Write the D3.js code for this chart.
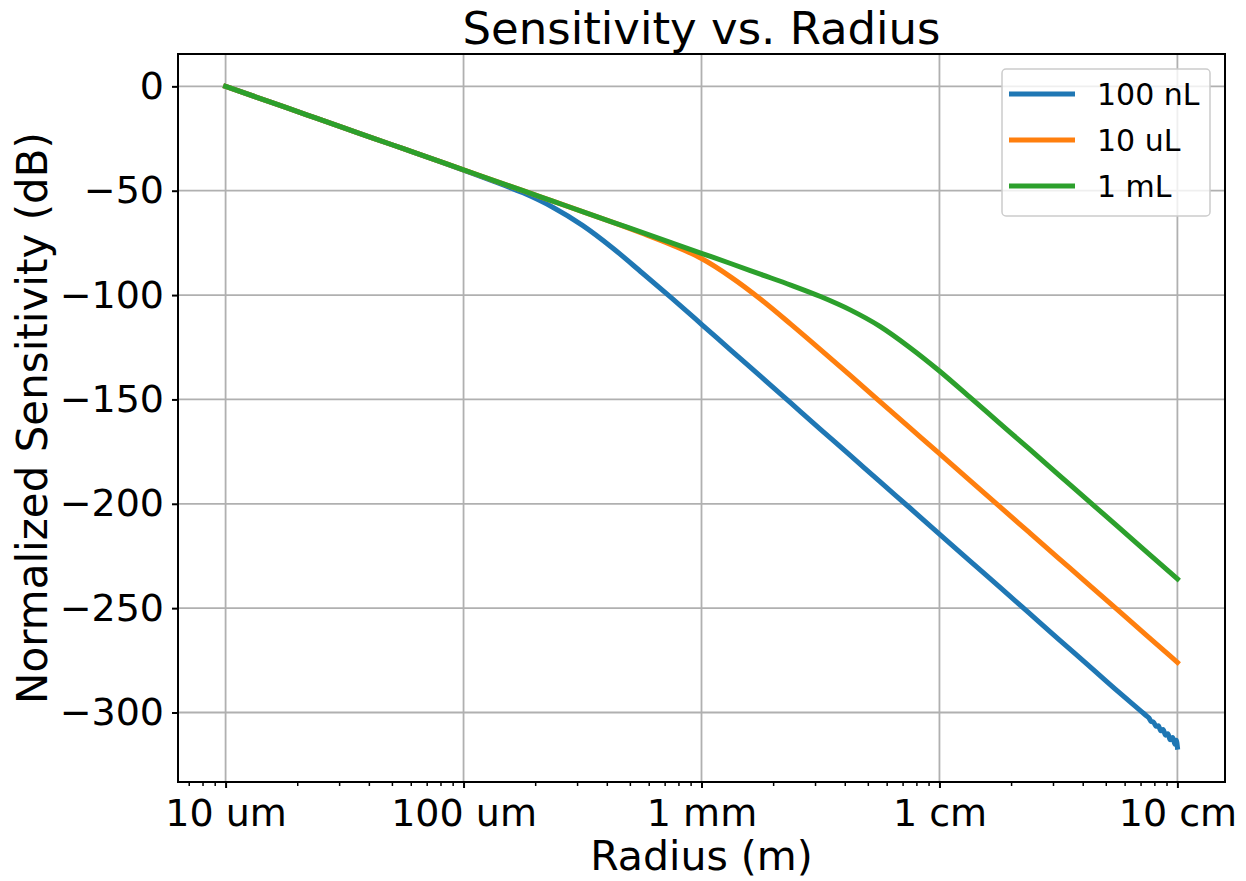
<!DOCTYPE html>
<html>
<head>
<meta charset="utf-8">
<script src="https://cdn.jsdelivr.net/npm/d3@7"></script>
<style>
  html, body { margin: 0; padding: 0; background: #fff; }
  svg { display: block; font-family: "DejaVu Sans", sans-serif; }
</style>
</head>
<body>
<svg id="chart" width="1246" height="881"></svg>
<script>
// ---- data ----
const radii = [
  1e-5, 1.334e-5, 1.778e-5, 2.371e-5, 3.162e-5, 4.217e-5, 5.623e-5, 7.499e-5,
  1e-4, 1.334e-4, 1.778e-4, 2.371e-4, 3.162e-4, 4.217e-4, 5.623e-4, 7.499e-4,
  1e-3, 1.334e-3, 1.778e-3, 2.371e-3, 3.162e-3, 4.217e-3, 5.623e-3, 7.499e-3,
  1e-2, 1.334e-2, 1.778e-2, 2.371e-2, 3.162e-2, 4.217e-2, 5.623e-2, 7.499e-2,
  1e-1
];
const blue100nL = [
  0, -5, -10, -15, -20, -25, -30, -35.0,
  -40.1, -45.4, -51.0, -57.9, -66.6, -77.3, -89.3, -101.5,
  -114.0, -126.6, -139.1, -151.7, -164.3, -176.8, -189.4, -201.9,
  -214.5, -227.1, -239.6, -252.2, -264.8, -277.3, -289.9, -302.4,
  -315.0
];
// noisy end of the 100 nL curve
const blueTailRadii = [0.0724, 0.0741, 0.0759, 0.0776, 0.0794, 0.0813, 0.0832, 0.0851,
  0.0871, 0.0891, 0.0912, 0.0933, 0.0955, 0.0977, 0.0989, 0.1];
const blueTailValues = [-300.6, -301.6, -302.6, -304.3, -304.6, -306.6, -306.4, -308.8,
  -308.2, -310.9, -310.2, -313.1, -312.0, -315.2, -313.3, -316.6];
const orange10uL = [
  0, -5, -10, -15, -20, -25, -30, -35,
  -40, -45, -50, -55, -60.0, -65.1, -70.4, -76.0,
  -82.5, -91.5, -102.1, -113.9, -126.1, -138.5, -151.0, -163.5,
  -176.0, -188.5, -201.0, -213.5, -226.0, -238.5, -251.0, -263.5,
  -276.0
];
const green1mL = [
  0, -5, -10, -15, -20, -25, -30, -35,
  -40, -45, -50, -55, -60, -65, -70, -75,
  -80.0, -85.0, -90.1, -95.2, -100.7, -107.1, -115.0, -125.1,
  -136.4, -148.7, -161.1, -173.5, -186.0, -198.5, -211.0, -223.5,
  -236.0
];
const seriesNames = ["100 nL", "10 uL", "1 mL"];
const seriesColors = ["#1f77b4", "#ff7f0e", "#2ca02c"];
const xTickValues = [1e-5, 1e-4, 1e-3, 1e-2, 1e-1];
const xTickLabels = ["10 um", "100 um", "1 mm", "1 cm", "10 cm"];
const yTickValues = [0, -50, -100, -150, -200, -250, -300];
const titleText = "Sensitivity vs. Radius";
const xLabelText = "Radius (m)";
const yLabelText = "Normalized Sensitivity (dB)";

// ---- layout ----
const L = 178, R = 1225, T = 54, B = 782;
const svg = d3.select("#chart");

const x = d3.scaleLog().domain([Math.pow(10, -5.2), Math.pow(10, -0.8)]).range([L, R]);
const y = d3.scaleLinear().domain([-333.3, 15.5]).range([B, T]);

// grid
const grid = svg.append("g");
grid.selectAll("line.gx").data(xTickValues).join("line")
  .attr("x1", d => x(d)).attr("x2", d => x(d)).attr("y1", T).attr("y2", B)
  .attr("stroke", "#b0b0b0").attr("stroke-width", 1.8);
grid.selectAll("line.gy").data(yTickValues).join("line")
  .attr("x1", L).attr("x2", R).attr("y1", d => y(d)).attr("y2", d => y(d))
  .attr("stroke", "#b0b0b0").attr("stroke-width", 1.8);

// lines
const line = d3.line().x(d => x(d.r)).y(d => y(d.v)).curve(d3.curveMonotoneX);
const bluePts = radii.map((r, i) => ({ r, v: blue100nL[i] })).filter(d => d.r < blueTailRadii[0])
  .concat(blueTailRadii.map((r, i) => ({ r, v: blueTailValues[i] })));
const orangePts = radii.map((r, i) => ({ r, v: orange10uL[i] }));
const greenPts = radii.map((r, i) => ({ r, v: green1mL[i] }));
const allSeries = [bluePts, orangePts, greenPts];

const linesG = svg.append("g");
allSeries.forEach((pts, i) => {
  linesG.append("path").datum(pts)
    .attr("d", line)
    .attr("fill", "none")
    .attr("stroke", seriesColors[i])
    .attr("stroke-width", 5)
    .attr("stroke-linejoin", "round")
    .attr("stroke-linecap", "square");
});

// axes
const xAxis = d3.axisBottom(x).tickValues(xTickValues)
  .tickFormat((d, i) => xTickLabels[i]).tickSize(6).tickSizeOuter(0).tickPadding(11);
const gx = svg.append("g").attr("transform", `translate(0,${B})`).call(xAxis);
gx.select(".domain").remove();
gx.selectAll(".tick line").attr("stroke", "#000").attr("stroke-width", 2);
gx.selectAll(".tick text").attr("font-size", 38).attr("fill", "#000")
  .attr("font-family", "DejaVu Sans");

// minor x ticks
const minorTicks = [];
for (let e = -6; e <= -1; e++) {
  for (let m = 2; m <= 9; m++) {
    const v = m * Math.pow(10, e);
    if (v >= x.domain()[0] && v <= x.domain()[1]) minorTicks.push(v);
  }
}
const gxm = svg.append("g").attr("transform", `translate(0,${B})`)
  .call(d3.axisBottom(x).tickValues(minorTicks).tickFormat("").tickSize(4).tickSizeOuter(0));
gxm.select(".domain").remove();
gxm.selectAll(".tick line").attr("stroke", "#000").attr("stroke-width", 1.5);

const yAxis = d3.axisLeft(y).tickValues(yTickValues)
  .tickFormat(d => d < 0 ? "\u2212" + Math.abs(d) : String(d))
  .tickSize(6).tickSizeOuter(0).tickPadding(8);
const gy = svg.append("g").attr("transform", `translate(${L},0)`).call(yAxis);
gy.select(".domain").remove();
gy.selectAll(".tick line").attr("stroke", "#000").attr("stroke-width", 2);
gy.selectAll(".tick text").attr("font-size", 38).attr("fill", "#000")
  .attr("font-family", "DejaVu Sans");

// frame
svg.append("rect").attr("x", L).attr("y", T).attr("width", R - L).attr("height", B - T)
  .attr("fill", "none").attr("stroke", "#000").attr("stroke-width", 2);

// titles
svg.append("text").attr("x", (L + R) / 2).attr("y", 44).attr("text-anchor", "middle")
  .attr("font-size", 45).attr("fill", "#000").text(titleText);
svg.append("text").attr("x", (L + R) / 2).attr("y", 870).attr("text-anchor", "middle")
  .attr("font-size", 41).attr("fill", "#000").text(xLabelText);
svg.append("text").attr("transform", `translate(47,${(T + B) / 2}) rotate(-90)`)
  .attr("text-anchor", "middle").attr("font-size", 42).attr("fill", "#000").text(yLabelText);

// legend
const lg = svg.append("g");
lg.append("rect").attr("x", 1002).attr("y", 69).attr("width", 208).attr("height", 147)
  .attr("rx", 4).attr("ry", 4)
  .attr("fill", "#fff").attr("fill-opacity", 0.8)
  .attr("stroke", "#cccccc").attr("stroke-width", 1.5);
seriesNames.forEach((name, i) => {
  const cy = 94 + i * 46;
  lg.append("line").attr("x1", 1009).attr("x2", 1075).attr("y1", cy).attr("y2", cy)
    .attr("stroke", seriesColors[i]).attr("stroke-width", 5);
  lg.append("text").attr("x", 1097).attr("y", cy + 11).attr("font-size", 30)
    .attr("fill", "#000").text(name);
});
</script>
</body>
</html>
